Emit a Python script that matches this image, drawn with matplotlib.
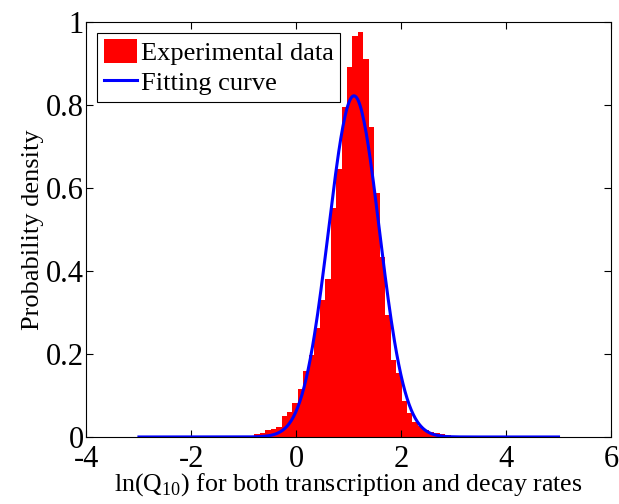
import numpy as np
import matplotlib
matplotlib.use("Agg")
from matplotlib import pyplot as plt

plt.rcParams['font.family'] = ['Liberation Serif', 'DejaVu Serif']
plt.rcParams['mathtext.fontset'] = 'custom'
plt.rcParams['mathtext.rm'] = 'Liberation Serif'
plt.rcParams['axes.unicode_minus'] = False

# histogram of ln(Q10)
bin_start = -0.80
bin_width = 0.104
density = [0.007, 0.010, 0.017, 0.019, 0.025, 0.051, 0.059, 0.081, 0.115, 0.160,
           0.198, 0.262, 0.330, 0.380, 0.553, 0.647, 0.796, 0.892, 0.966, 0.977,
           0.912, 0.748, 0.588, 0.434, 0.294, 0.186, 0.154, 0.087, 0.057, 0.037,
           0.027, 0.018, 0.013, 0.009, 0.006, 0.004, 0.002]

# normal fit
fit_mu = 1.10
fit_sigma = 0.485
fit_range = (-3.0, 5.0)

x_ticks = [-4, -2, 0, 2, 4, 6]
y_ticks = [0, 0.2, 0.4, 0.6, 0.8, 1]
y_tick_labels = ['0', '0.2', '0.4', '0.6', '0.8', '1']

fig = plt.figure(figsize=(6.19, 5.04), dpi=100)
ax = fig.add_axes([0.1397, 0.133, 0.8473, 0.823])

edges = bin_start + bin_width * np.arange(len(density))
bars = ax.bar(edges, density, width=bin_width, align='edge', color='#ff0000',
              edgecolor='none')

xs = np.linspace(fit_range[0], fit_range[1], 400)
pdf = np.exp(-(xs - fit_mu) ** 2 / (2 * fit_sigma ** 2)) / (fit_sigma * np.sqrt(2 * np.pi))
line, = ax.plot(xs, pdf, color='#0000ff', lw=2.2)

ax.set_xlim(-4, 6)
ax.set_ylim(0, 1)
ax.set_xticks(x_ticks)
ax.set_yticks(y_ticks)
ax.set_yticklabels(y_tick_labels)
ax.tick_params(direction='in', top=True, right=True, labelsize=22, length=5, width=0.8)
ax.tick_params(axis='y', pad=2)
ax.tick_params(axis='x', pad=5.5)
for s in ax.spines.values():
    s.set_linewidth(0.8)

ax.set_xlabel(r'ln(Q$_{10}$) for both transcription and decay rates', fontsize=18.6, labelpad=-2)
ax.set_ylabel('Probability density', fontsize=19, labelpad=1)

leg = ax.legend([bars, line], ['Experimental data', 'Fitting curve'],
                loc='upper left', fontsize=19, frameon=True, fancybox=False,
                edgecolor='black', framealpha=1, borderpad=0.25, handlelength=1.25,
                handleheight=1.0, handletextpad=0.15, labelspacing=0.15,
                borderaxespad=0.4)
leg.get_frame().set_linewidth(0.8)

fig.savefig('out.png', dpi=100)
